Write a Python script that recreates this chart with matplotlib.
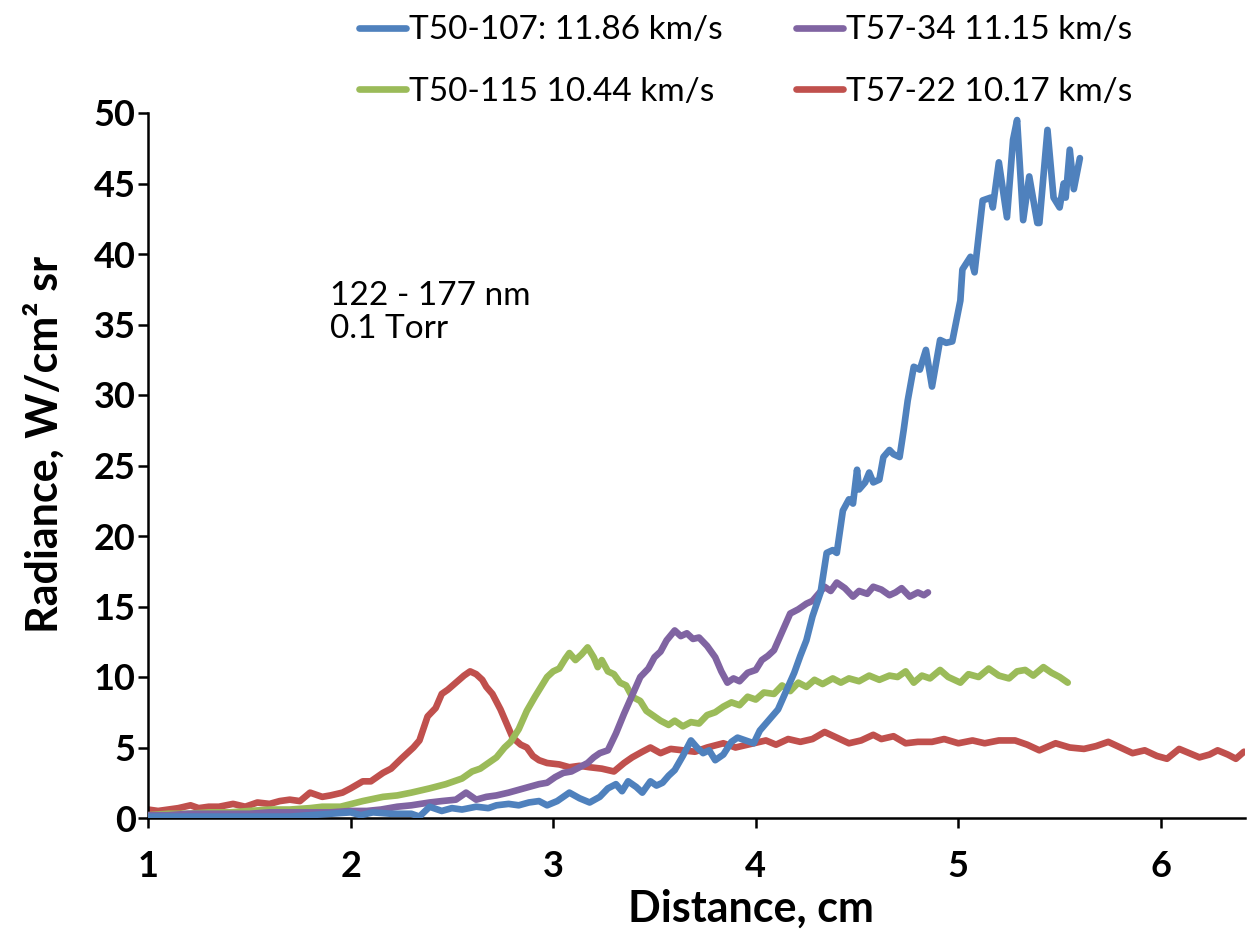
import matplotlib
matplotlib.use("Agg")
import matplotlib.pyplot as plt

plt.rcParams['font.family'] = ['Lato', 'DejaVu Sans']

# (distance cm, radiance W/cm2 sr)
t50_107 = [(1.00, 0.1), (1.20, 0.1), (1.40, 0.1), (1.60, 0.1), (1.70, 0.1), (1.80, 0.2),
           (1.90, 0.3), (2.00, 0.4), (2.05, 0.2), (2.11, 0.4), (2.20, 0.3), (2.30, 0.3),
           (2.34, 0.1), (2.39, 0.8), (2.45, 0.5), (2.50, 0.7), (2.55, 0.6), (2.62, 0.8),
           (2.68, 0.7), (2.72, 0.9), (2.78, 1.0), (2.83, 0.9), (2.88, 1.1), (2.93, 1.2),
           (2.97, 0.9), (3.02, 1.2), (3.08, 1.8), (3.13, 1.4), (3.18, 1.1), (3.23, 1.5),
           (3.27, 2.1), (3.31, 2.4), (3.34, 1.9), (3.37, 2.6), (3.41, 2.2), (3.44, 1.8),
           (3.48, 2.6), (3.51, 2.3), (3.54, 2.5), (3.57, 3.0), (3.60, 3.4), (3.64, 4.4),
           (3.68, 5.5), (3.71, 5.0), (3.74, 4.6), (3.77, 4.8), (3.80, 4.1), (3.84, 4.5),
           (3.88, 5.4), (3.91, 5.7), (3.95, 5.5), (3.99, 5.3), (4.02, 6.2), (4.05, 6.7),
           (4.08, 7.2), (4.11, 7.7), (4.15, 9.0), (4.19, 10.3), (4.22, 11.5), (4.25, 12.6),
           (4.28, 14.3), (4.32, 16.0), (4.35, 18.8), (4.38, 19.0), (4.40, 18.8), (4.43, 21.8),
           (4.46, 22.6), (4.48, 22.3), (4.50, 24.7), (4.51, 23.3), (4.54, 23.8), (4.56, 24.5),
           (4.58, 23.8), (4.61, 24.0), (4.63, 25.6), (4.66, 26.1), (4.68, 25.8), (4.71, 25.6),
           (4.73, 27.5), (4.75, 29.6), (4.78, 32.0), (4.81, 31.8), (4.84, 33.2), (4.87, 30.6),
           (4.91, 33.9), (4.94, 33.7), (4.97, 33.8), (5.01, 36.7), (5.02, 38.9), (5.06, 39.8),
           (5.08, 38.7), (5.12, 43.8), (5.16, 44.0), (5.17, 43.3), (5.20, 46.5), (5.24, 42.6),
           (5.27, 48.1), (5.29, 49.5), (5.32, 42.4), (5.35, 45.5), (5.39, 42.2), (5.40, 42.2),
           (5.44, 48.8), (5.47, 44.0), (5.50, 43.3), (5.52, 45.0), (5.53, 44.0), (5.55, 47.4),
           (5.57, 44.6), (5.60, 46.8)]

t50_115 = [(1.00, 0.2), (1.10, 0.3), (1.20, 0.3), (1.30, 0.4), (1.40, 0.4), (1.50, 0.5),
           (1.60, 0.6), (1.70, 0.6), (1.80, 0.7), (1.86, 0.8), (1.95, 0.8), (2.06, 1.2),
           (2.16, 1.5), (2.23, 1.6), (2.30, 1.8), (2.39, 2.1), (2.47, 2.4), (2.55, 2.8),
           (2.60, 3.3), (2.64, 3.5), (2.68, 3.9), (2.72, 4.3), (2.76, 5.0), (2.79, 5.4),
           (2.83, 6.3), (2.87, 7.6), (2.91, 8.6), (2.94, 9.3), (2.97, 10.0), (3.00, 10.4),
           (3.03, 10.6), (3.06, 11.3), (3.08, 11.7), (3.11, 11.2), (3.14, 11.6), (3.17, 12.1),
           (3.20, 11.4), (3.22, 10.7), (3.24, 11.2), (3.27, 10.4), (3.30, 10.2), (3.33, 9.6),
           (3.36, 9.4), (3.39, 8.6), (3.43, 8.3), (3.46, 7.6), (3.50, 7.2), (3.53, 6.9),
           (3.57, 6.6), (3.60, 6.9), (3.64, 6.5), (3.68, 6.8), (3.72, 6.7), (3.76, 7.3),
           (3.80, 7.5), (3.84, 7.9), (3.88, 8.2), (3.92, 8.0), (3.96, 8.6), (4.00, 8.4),
           (4.04, 8.9), (4.09, 8.8), (4.13, 9.4), (4.17, 9.0), (4.21, 9.6), (4.25, 9.3),
           (4.29, 9.8), (4.33, 9.5), (4.38, 9.9), (4.42, 9.6), (4.46, 9.9), (4.51, 9.7),
           (4.56, 10.1), (4.61, 9.8), (4.66, 10.1), (4.70, 10.0), (4.74, 10.4), (4.78, 9.6),
           (4.82, 10.1), (4.86, 9.9), (4.91, 10.5), (4.95, 10.0), (5.01, 9.6), (5.05, 10.2),
           (5.10, 10.0), (5.15, 10.6), (5.20, 10.1), (5.25, 9.9), (5.29, 10.4), (5.33, 10.5),
           (5.37, 10.1), (5.42, 10.7), (5.46, 10.3), (5.50, 10.0), (5.54, 9.6)]

t57_34 = [(1.00, 0.2), (1.10, 0.2), (1.20, 0.3), (1.30, 0.3), (1.40, 0.3), (1.50, 0.3),
          (1.60, 0.4), (1.70, 0.4), (1.80, 0.4), (1.90, 0.4), (2.00, 0.5), (2.08, 0.5),
          (2.15, 0.6), (2.23, 0.8), (2.30, 0.9), (2.39, 1.1), (2.45, 1.2), (2.52, 1.3),
          (2.57, 1.8), (2.62, 1.3), (2.67, 1.5), (2.72, 1.6), (2.78, 1.8), (2.83, 2.0),
          (2.88, 2.2), (2.93, 2.4), (2.97, 2.5), (3.01, 2.9), (3.05, 3.2), (3.09, 3.3),
          (3.13, 3.6), (3.17, 3.9), (3.20, 4.3), (3.23, 4.6), (3.27, 4.8), (3.31, 6.0),
          (3.35, 7.4), (3.39, 8.7), (3.43, 10.0), (3.47, 10.6), (3.50, 11.4), (3.53, 11.8),
          (3.56, 12.6), (3.60, 13.3), (3.63, 12.9), (3.66, 13.1), (3.69, 12.7), (3.72, 12.8),
          (3.76, 12.2), (3.80, 11.4), (3.83, 10.4), (3.86, 9.6), (3.89, 9.9), (3.92, 9.7),
          (3.96, 10.3), (4.00, 10.5), (4.03, 11.2), (4.06, 11.5), (4.09, 11.9), (4.13, 13.2),
          (4.17, 14.5), (4.21, 14.8), (4.25, 15.2), (4.28, 15.4), (4.31, 15.9), (4.34, 16.4),
          (4.37, 16.1), (4.40, 16.7), (4.44, 16.3), (4.48, 15.7), (4.51, 16.1), (4.55, 15.9),
          (4.58, 16.4), (4.62, 16.2), (4.66, 15.8), (4.69, 16.0), (4.72, 16.3), (4.76, 15.7),
          (4.80, 16.0), (4.83, 15.8), (4.85, 16.0)]

t57_22 = [(1.00, 0.6), (1.05, 0.5), (1.10, 0.6), (1.15, 0.7), (1.21, 0.9), (1.25, 0.7),
          (1.30, 0.8), (1.35, 0.8), (1.42, 1.0), (1.48, 0.8), (1.54, 1.1), (1.60, 1.0),
          (1.65, 1.2), (1.70, 1.3), (1.75, 1.2), (1.80, 1.8), (1.86, 1.5), (1.90, 1.6),
          (1.96, 1.8), (2.00, 2.1), (2.06, 2.6), (2.10, 2.6), (2.16, 3.2), (2.20, 3.5),
          (2.25, 4.2), (2.28, 4.6), (2.31, 5.0), (2.34, 5.5), (2.38, 7.2), (2.42, 7.8),
          (2.45, 8.8), (2.48, 9.1), (2.52, 9.6), (2.56, 10.1), (2.59, 10.4), (2.62, 10.2),
          (2.65, 9.8), (2.67, 9.3), (2.70, 8.8), (2.74, 7.7), (2.77, 6.7), (2.80, 5.7),
          (2.84, 5.2), (2.87, 5.0), (2.90, 4.4), (2.93, 4.1), (2.97, 3.9), (3.03, 3.8),
          (3.08, 3.6), (3.13, 3.7), (3.18, 3.6), (3.24, 3.5), (3.30, 3.3), (3.35, 3.9),
          (3.39, 4.3), (3.44, 4.7), (3.48, 5.0), (3.53, 4.6), (3.58, 4.9), (3.64, 4.8),
          (3.70, 4.7), (3.76, 5.0), (3.84, 5.3), (3.90, 5.0), (3.96, 5.2), (4.05, 5.5),
          (4.10, 5.2), (4.16, 5.6), (4.22, 5.4), (4.28, 5.6), (4.34, 6.1), (4.40, 5.7),
          (4.46, 5.3), (4.52, 5.5), (4.58, 5.9), (4.62, 5.6), (4.68, 5.8), (4.74, 5.3),
          (4.80, 5.4), (4.87, 5.4), (4.93, 5.6), (5.00, 5.3), (5.07, 5.5), (5.13, 5.3),
          (5.20, 5.5), (5.28, 5.5), (5.34, 5.2), (5.40, 4.8), (5.48, 5.3), (5.55, 5.0),
          (5.62, 4.9), (5.68, 5.1), (5.74, 5.4), (5.80, 5.0), (5.86, 4.6), (5.92, 4.8),
          (5.98, 4.4), (6.03, 4.2), (6.09, 4.9), (6.14, 4.6), (6.19, 4.3), (6.24, 4.5),
          (6.28, 4.8), (6.33, 4.5), (6.37, 4.2), (6.41, 4.7)]

labels = ["T50-107: 11.86 km/s", "T50-115 10.44 km/s", "T57-34 11.15 km/s", "T57-22 10.17 km/s"]
colors = ["#4F81BD", "#9BBB59", "#8064A2", "#C0504D"]
series = [t50_107, t50_115, t57_34, t57_22]
# draw order: red first at the bottom, blue on top
zorders = [5, 3, 4, 2]

fig = plt.figure(figsize=(12.56, 9.33), dpi=100)
ax = fig.add_axes([148/1256, 1 - 818/933, 1097/1256, 705/933])

for data, lab, c, z in zip(series, labels, colors, zorders):
    xs = [p[0] for p in data]
    ys = [p[1] for p in data]
    ax.plot(xs, ys, color=c, lw=4.8, label=lab, zorder=z,
            solid_joinstyle='round', solid_capstyle='round')

ax.set_xlim(1, 6.415)
ax.set_ylim(0, 50)
ax.set_xticks([1, 2, 3, 4, 5, 6])
ax.set_yticks(range(0, 51, 5))
for s in ['top', 'right']:
    ax.spines[s].set_visible(False)
for s in ['left', 'bottom']:
    ax.spines[s].set_linewidth(1.8)
ax.tick_params(direction='out', length=7, width=1.8, labelsize=26)
ax.tick_params(axis='y', pad=2)
ax.tick_params(axis='x', pad=16)
for t in ax.get_xticklabels() + ax.get_yticklabels():
    t.set_fontweight('bold')

ax.set_xlabel("Distance, cm", fontsize=31, fontweight='bold')
ax.xaxis.label.set_va('center')
ax.xaxis.set_label_coords(0.55, -0.128)
ax.set_ylabel("Radiance, W/cm² sr", fontsize=31, fontweight='bold')
ax.yaxis.label.set_va('center')
ax.yaxis.set_label_coords(-0.095, 0.53)

ax.text(1.9, 38.1, "122 - 177 nm\n0.1 Torr", fontsize=24, va='top', ha='left',
        linespacing=1.15)

fig.legend(loc='upper left', bbox_to_anchor=(346/1256, 0.998), ncol=2, frameon=False,
           fontsize=24, handlelength=1.4, handletextpad=0.1, columnspacing=2.2,
           labelspacing=0.95, borderaxespad=0.0)

fig.savefig("out.png", dpi=100)
